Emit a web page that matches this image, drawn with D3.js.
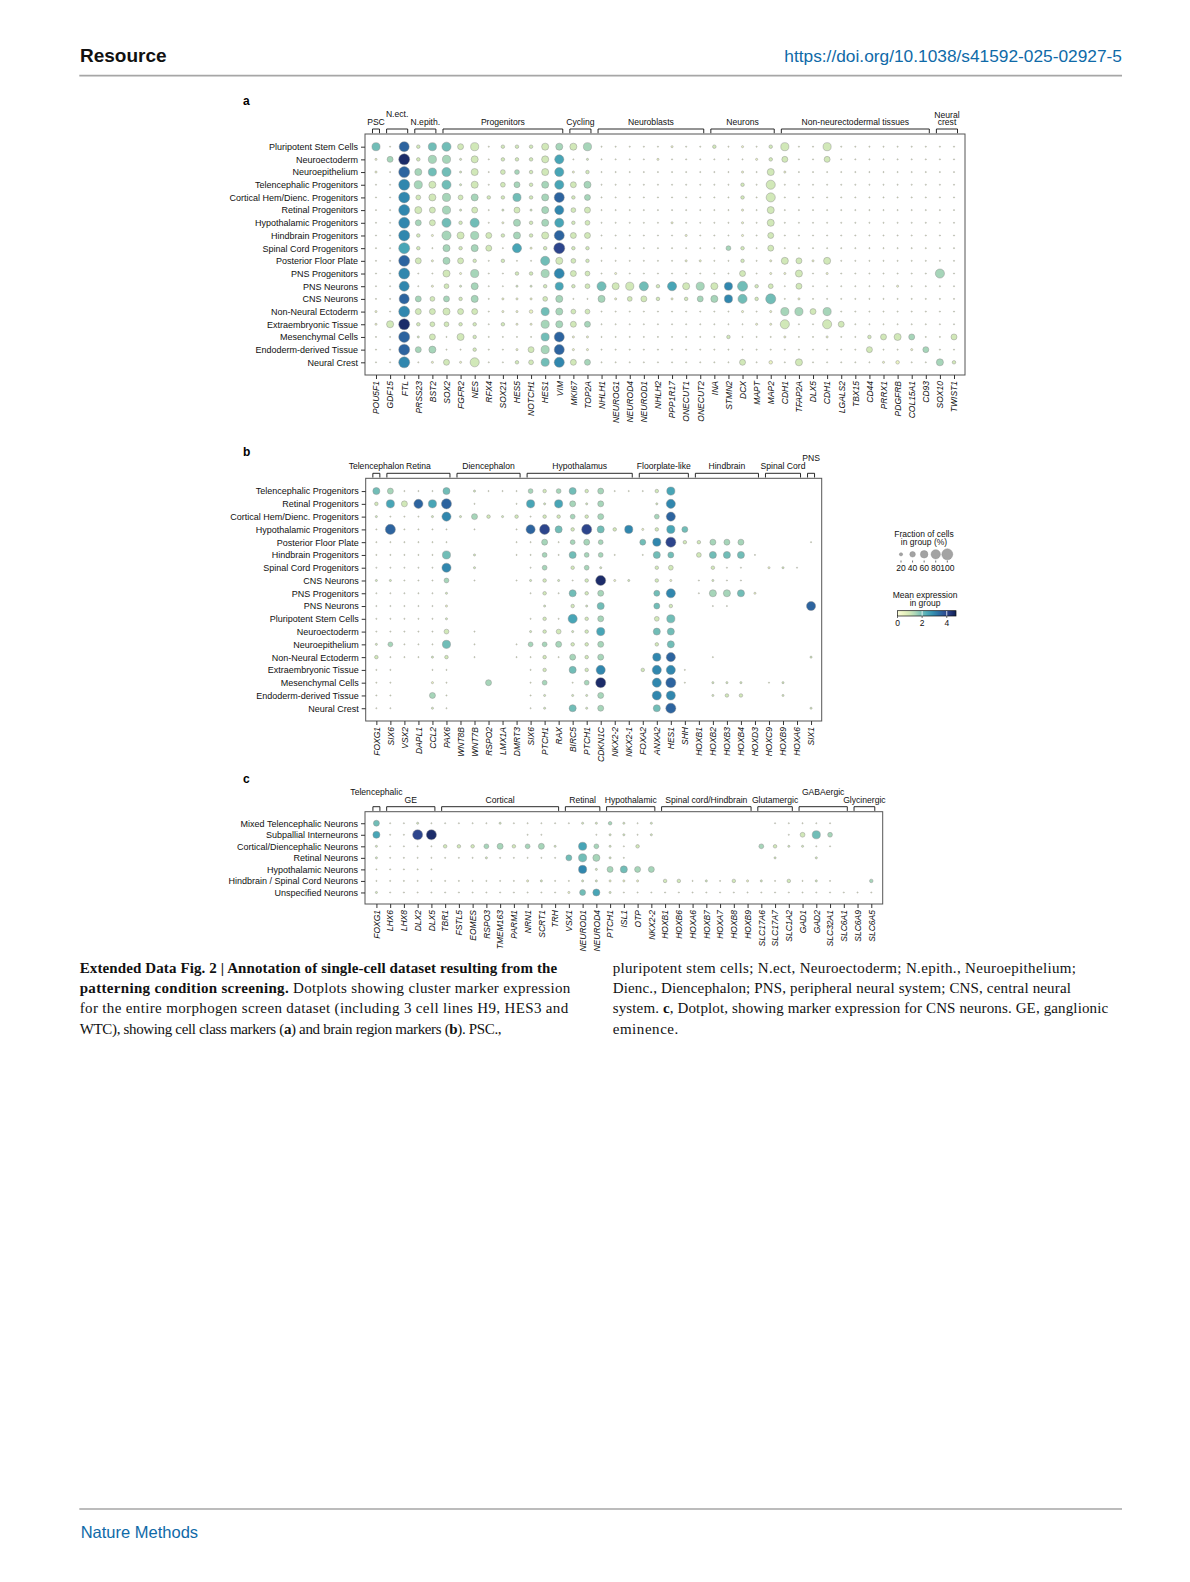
<!DOCTYPE html>
<html>
<head>
<meta charset="utf-8">
<script src="https://cdn.jsdelivr.net/npm/d3@7"></script>
<style>
  body { margin: 0; background: #fff; }
  svg { display: block; font-family: "Liberation Sans", Arial, sans-serif; }
</style>
</head>
<body>
<svg id="fig" width="1190" height="1582"></svg>
<script>
// Cell codes used in the frac/expr strings below (one char per gene, spaces only group the brackets):
//   frac: "." = no dot, "0" = ~5 % of cells, "1".."9" = n/9 of cells (9 = 100 %)
//   expr: mean expression in group = n * 0.5

// ---- panel a : cell class markers
var rowsA = ["Pluripotent Stem Cells", "Neuroectoderm", "Neuroepithelium", "Telencephalic Progenitors",
  "Cortical Hem/Dienc. Progenitors", "Retinal Progenitors", "Hypothalamic Progenitors", "Hindbrain Progenitors",
  "Spinal Cord Progenitors", "Posterior Floor Plate", "PNS Progenitors", "PNS Neurons", "CNS Neurons",
  "Non-Neural Ectoderm", "Extraembryonic Tissue", "Mesenchymal Cells", "Endoderm-derived Tissue", "Neural Crest"];
var genesA = ["POU5F1", "GDF15", "FTL", "PRSS23", "BST2", "SOX2", "FGFR2", "NES", "RFX4", "SOX21", "HES5",
  "NOTCH1", "HES1", "VIM", "MKI67", "TOP2A", "NHLH1", "NEUROG1", "NEUROD4", "NEUROD1", "NHLH2", "PPP1R17",
  "ONECUT1", "ONECUT2", "INA", "STMN2", "DCX", "MAPT", "MAP2", "CDH1", "TFAP2A", "DLX5", "CDH1", "LGALS2",
  "TBX15", "CD44", "PRRX1", "PDGFRB", "COL15A1", "CD93", "SOX10", "TWIST1"];
var groupsA = [["PSC", 1], ["N.ect.", 2], ["N.epith.", 2], ["Progenitors", 9], ["Cycling", 2],
  ["Neuroblasts", 8], ["Neurons", 5], ["Non-neurectodermal tissues", 11], ["Neural\ncrest", 2]];
var fracA = [
  "6 08 26 746022255 56 00000100 20102 60060000000 00",
  "1 49 26 615022257 01 00001000 00012 40040000000 00",
  "1 09 56 715033257 12 00000000 00105 10000000000 00",
  "0 09 65 715034257 45 00000000 00207 00000000000 00",
  "0 09 35 635226258 24 00000000 00207 00000000000 00",
  "0 09 54 614014157 34 00000000 00105 00000000000 00",
  "0 09 44 727015257 23 00000100 00105 00000000000 00",
  "0 09 21 756425258 44 00000010 00104 00000000000 00",
  "0 09 20 525407129 22 00000000 03204 00000000000 00",
  "0 09 41 542020075 32 00000011 00201 54150000000 00",
  "0 09 00 516002268 43 01000000 00401 15010000000 70",
  "0 08 01 315001126 23 75672756 56823 04000000100 00",
  "0 08 43 425011135 00 51342124 56728 01000000000 00",
  "1 09 44 544011265 33 00000000 00101 66460000000 00",
  "1 59 23 322021165 44 00000000 00011 70074000000 00",
  "0 09 14 052000068 11 00000000 02000 10010024540 04",
  "0 09 45 002001468 11 00000000 00000 00000040014 00",
  "0 09 01 417002368 44 00000000 00402 05000001200 52"];
var exprA = [
  "4 17 24 422122223 23 11111111 21112 21121111111 11",
  "1 39 23 322122225 12 11111111 11112 21121111111 11",
  "1 17 34 422123225 12 11111111 11112 11111111111 11",
  "1 16 32 422123235 23 11111111 11212 11111111111 11",
  "1 16 22 323224237 23 11111111 11212 11111111111 11",
  "1 16 22 322122236 22 11111111 11112 11111111111 11",
  "1 16 32 424113235 22 11111111 11112 11111111111 11",
  "1 16 21 323223227 22 11111111 11112 11111111111 11",
  "1 15 21 323215128 22 11111111 13212 11111111111 11",
  "1 17 21 322121142 22 11111111 11211 22121111111 11",
  "1 16 11 213112236 22 11111111 11211 12111111111 31",
  "1 16 11 223112225 22 42242523 26422 12111111111 11",
  "1 17 32 323111123 11 31222123 36424 11111111111 11",
  "1 16 22 222111143 22 11111111 11111 33231111111 11",
  "1 29 22 222121133 23 11111111 11111 21122111111 11",
  "1 17 22 122111147 11 11111111 12111 11111122231 12",
  "1 17 33 112111237 11 11111111 11111 11111121113 11",
  "1 16 11 212112246 23 11111111 11211 12111111111 32"];

// ---- panel b : brain region markers
var rowsB = ["Telencephalic Progenitors", "Retinal Progenitors", "Cortical Hem/Dienc. Progenitors",
  "Hypothalamic Progenitors", "Posterior Floor Plate", "Hindbrain Progenitors", "Spinal Cord Progenitors",
  "CNS Neurons", "PNS Progenitors", "PNS Neurons", "Pluripotent Stem Cells", "Neuroectoderm", "Neuroepithelium",
  "Non-Neural Ectoderm", "Extraembryonic Tissue", "Mesenchymal Cells", "Endoderm-derived Tissue", "Neural Crest"];
var genesB = ["FOXG1", "SIX6", "VSX2", "DAPL1", "CCL2", "PAX6", "WNT8B", "WNT7B", "RSPO2", "LMX1A", "DMRT3",
  "SIX6", "PTCH1", "RAX", "BIRC5", "PTCH1", "CDKN1C", "NKX2-2", "NKX2-1", "FOXA2", "ANXA2", "HES1", "SHH",
  "HOXB1", "HOXB2", "HOXB3", "HOXB4", "HOXD3", "HOXC9", "HOXB9", "HOXA6", "SIX1"];
var groupsB = [["Telencephalon", 1], ["Retina", 5], ["Diencephalon", 5], ["Hypothalamus", 8],
  ["Floorplate-like", 4], ["Hindbrain", 5], ["Spinal Cord", 3], ["PNS", 1]];
var fracB = [
  "5 40005 .1000 32352400 026. ..... ... .",
  "2 64768 .0..0 616414.. .17. ..... ... .",
  "1 00017 14212 022324.. .37. ..... ... .",
  "0 80000 .0..0 78528526 1264 ..... ... .",
  "0 00000 ....0 040343.. 4682 2444. ... 0",
  "0 00006 .1..0 0305330. 054. 35550 ... .",
  "0 00007 .1... 03.231.. .23. .200. 110 .",
  "1 10003 .0..0 12102811 .21. 0100. ... .",
  "0 00001 ..... 020524.. .47. 05551 ... .",
  "0 00001 ..... .1.215.. .42. .00.. ... 7",
  "0 00001 ..... 020724.. .36. ..... ... .",
  "0 00003 .0... 123126.. .55. ..... ... .",
  "1 30006 .0..0 334224.. .25. ..... ... .",
  "2 00012 .0..0 020424.. .67. .0... ... 1",
  "0 0..00 ..... 02.527.. 2770 ..... ... .",
  "0 0..10 ..4.. 03.038.. .780 .111. 01. .",
  "0 0..40 ..... 01.114.. .77. .122. .1. .",
  "0 0..10 ..... 01.514.. .58. ..... ... 1"];
var exprB = [
  "4 31114 12111 32342311 1251 11111 111 1",
  "2 52757 11111 52532311 1261 11111 111 1",
  "2 11126 23222 12232311 1371 11111 111 1",
  "1 71111 11111 78428426 1254 11111 111 1",
  "1 11111 11111 13133311 4682 23331 111 1",
  "1 11114 12111 13143311 1441 24441 111 1",
  "1 11116 12111 13123211 1221 12111 121 1",
  "2 21113 11111 22212912 1211 12111 111 1",
  "1 11112 11111 12142311 1461 13341 111 1",
  "1 11111 11111 12122411 1421 11111 111 7",
  "1 11112 11111 12152311 1241 11111 111 1",
  "1 11112 11111 22222511 1441 11111 111 1",
  "2 31114 11111 33322311 1241 11111 111 1",
  "2 11122 11111 12132311 1671 11111 111 2",
  "1 11111 11111 12142611 2661 11111 111 1",
  "1 11111 11311 13113911 1671 12221 121 1",
  "1 11131 11111 12122311 1661 12221 121 1",
  "1 11121 11111 12142311 1471 11111 111 2"];

// ---- panel c : CNS neuron markers
var rowsC = ["Mixed Telencephalic Neurons", "Subpallial Interneurons", "Cortical/Diencephalic Neurons",
  "Retinal Neurons", "Hypothalamic Neurons", "Hindbrain / Spinal Cord Neurons", "Unspecified Neurons"];
var genesC = ["FOXG1", "LHX6", "LHX8", "DLX2", "DLX5", "TBR1", "FSTL5", "EOMES", "RSPO3", "TMEM163", "PARM1",
  "NRN1", "SCRT1", "TRH", "VSX1", "NEUROD1", "NEUROD4", "PTCH1", "ISL1", "OTP", "NKX2-2", "HOXB1", "HOXB6",
  "HOXA6", "HOXB7", "HOXA7", "HOXB8", "HOXB9", "SLC17A6", "SLC17A7", "SLC1A2", "GAD1", "GAD2", "SLC32A1",
  "SLC6A1", "SLC6A9", "SLC6A5"];
var groupsC = [["Telencephalic", 1], ["GE", 4], ["Cortical", 9], ["Retinal", 3], ["Hypothalamic", 4],
  ["Spinal cord/Hindbrain", 7], ["Glutamergic", 3], ["GABAergic", 4], ["Glycinergic", 2]];
var fracC = [
  "4 0010 000010000 011 2101 ....... .00 000. ..",
  "5 0088 ......00. ..0 1101 ....... ..0 363. ..",
  "1 0000 222342341 .63 102. ....... 321 100. ..",
  "1 0000 000100000 465 10.. ....... .1. .1.. ..",
  "0 0000 ......... .61 4544 ....... ... .... ..",
  "0 0000 000000110 011 111. 2201021 102 010. .2",
  "1 0000 000000000 145 1000 0000000 000 0000 00"];
var exprC = [
  "4 1121 111121111 122 3212 1111111 111 1111 11",
  "5 1189 111111111 111 2212 1111111 111 2431 11",
  "2 1111 222332332 153 2121 1111111 322 2111 11",
  "2 1111 111211111 443 2111 1111111 121 1211 11",
  "1 1111 111111111 162 3433 1111111 111 1111 11",
  "1 1111 111111121 122 1111 2212121 212 1211 13",
  "2 1111 111111111 145 2111 1111111 111 1111 11"];

// ---- legend values
var fracTicks = [20, 40, 60, 80, 100];
var exprTicks = [0, 2, 4];
var exprMax = 4.75;

// ---- caption
var captionLeft = [
  [["Extended Data Fig. 2 | Annotation of single-cell dataset resulting from the", true]],
  [["patterning condition screening.", true], [" Dotplots showing cluster marker expression", false]],
  [["for the entire morphogen screen dataset (including 3 cell lines H9, HES3 and", false]],
  [["WTC), showing cell class markers (", false], ["a", true], [") and brain region markers (", false], ["b", true], ["). PSC.,", false]]];
var captionRight = [
  [["pluripotent stem cells; N.ect, Neuroectoderm; N.epith., Neuroepithelium;", false]],
  [["Dienc., Diencephalon; PNS, peripheral neural system; CNS, central neural", false]],
  [["system. ", false], ["c", true], [", Dotplot, showing marker expression for CNS neurons. GE, ganglionic", false]],
  [["eminence.", false]]];

var svg = d3.select("#fig");
var blue = "#0f6aa8";
svg.append("rect").attr("width", 1190).attr("height", 1582).attr("fill", "#fff");

var sizeScale = d3.scalePow().exponent(0.75).domain([0, 100]).range([0, 5.5]);
// YlGnBu, a little muted like the printed figure
var colorScale = d3.scaleSequential(function(t) {
  var c = d3.hsl(d3.interpolateYlGnBu(t));
  c.s *= 0.82;
  return c.formatHex();
}).domain([0, exprMax]);

function cells(s) { return s.replace(/ /g, "").split(""); }
function fracOf(c) { return c === "." ? 0 : (c === "0" ? 5 : (+c) / 9 * 100); }
function exprOf(c) { return (+c) * 0.5; }

// labels that sit one step higher so they do not run into a neighbour
var lifted = new Set(["N.ect.", "PNS", "Telencephalic", "GABAergic"]);

function dotplot(p) {
  var g = svg.append("g");
  var x = d3.scalePoint().domain(d3.range(p.genes.length)).range([p.box.l, p.box.r]).padding(p.pad);
  var y = d3.scalePoint().domain(p.rows).range([p.box.t, p.box.b]).padding(1);

  var data = [];
  p.rows.forEach(function(r, i) {
    var fr = cells(p.frac[i]), ex = cells(p.expr[i]);
    if (fr.length !== p.genes.length || ex.length !== p.genes.length) {
      throw new Error(p.name + " row " + i + ": " + fr.length + "/" + ex.length);
    }
    fr.forEach(function(c, j) {
      var f = fracOf(c);
      if (f > 0) data.push({ row: r, col: j, frac: f, expr: exprOf(ex[j]) });
    });
  });

  g.append("rect")
    .attr("x", p.box.l).attr("y", p.box.t)
    .attr("width", p.box.r - p.box.l).attr("height", p.box.b - p.box.t)
    .attr("fill", "#fff").attr("stroke", "#555").attr("stroke-width", 1);

  g.selectAll("circle.dot").data(data).enter().append("circle")
    .attr("class", "dot")
    .attr("cx", function(d) { return x(d.col); })
    .attr("cy", function(d) { return y(d.row); })
    .attr("r", function(d) { return sizeScale(d.frac); })
    .attr("fill", function(d) { return colorScale(d.expr); })
    .attr("stroke", "#8c8c8c")
    .attr("stroke-width", 0.45);

  var ya = g.append("g")
    .attr("transform", "translate(" + p.box.l + ",0)")
    .call(d3.axisLeft(y).tickSize(4).tickPadding(3));
  ya.select(".domain").remove();
  ya.attr("font-size", 9).attr("font-family", null).attr("color", "#333");
  ya.selectAll("text").attr("fill", "#111");

  var xa = g.append("g")
    .attr("transform", "translate(0," + p.box.b + ")")
    .call(d3.axisBottom(x).tickSize(4).tickFormat(function(i) { return p.genes[i]; }));
  xa.select(".domain").remove();
  xa.attr("font-size", 8.5).attr("font-family", null).attr("color", "#333");
  xa.selectAll("text")
    .attr("fill", "#111")
    .attr("font-style", "italic")
    .attr("text-anchor", "end")
    .attr("transform", "rotate(-90)")
    .attr("x", -6).attr("y", 0).attr("dy", "0.33em");

  var start = 0;
  p.groups.forEach(function(gr) {
    var i0 = start, i1 = start + gr[1] - 1;
    start += gr[1];
    var x0 = x(i0) - 3.5, x1 = x(i1) + 3.5;
    var top = p.box.t - 5, bot = p.box.t - 0.8;
    g.append("path")
      .attr("d", "M" + x0 + "," + bot + "V" + top + "H" + x1 + "V" + bot)
      .attr("fill", "none").attr("stroke", "#111").attr("stroke-width", 0.9);
    var lines = gr[0].split("\n");
    var base = p.box.t - (lifted.has(gr[0]) ? 17 : 9);
    lines.forEach(function(ln, k) {
      g.append("text")
        .attr("x", (x0 + x1) / 2)
        .attr("y", base - (lines.length - 1 - k) * 7.5)
        .attr("text-anchor", "middle")
        .attr("font-size", 8.6)
        .attr("fill", "#111")
        .text(ln);
    });
  });

  svg.append("text")
    .attr("x", 243).attr("y", p.letterY)
    .attr("font-size", 12).attr("font-weight", "bold")
    .text(p.name);
}

dotplot({ name: "a", rows: rowsA, genes: genesA, groups: groupsA, frac: fracA, expr: exprA,
  box: { l: 365, r: 965, t: 134, b: 375 }, pad: 0.78, letterY: 105 });
dotplot({ name: "b", rows: rowsB, genes: genesB, groups: groupsB, frac: fracB, expr: exprB,
  box: { l: 365.7, r: 821.7, t: 478.3, b: 721 }, pad: 0.76, letterY: 456 });
dotplot({ name: "c", rows: rowsC, genes: genesC, groups: groupsC, frac: fracC, expr: exprC,
  box: { l: 365, r: 882.7, t: 811.7, b: 904 }, pad: 0.83, letterY: 783 });

// ---- legends next to panel b
var leg = svg.append("g").attr("font-size", 8.5).attr("fill", "#111");
leg.append("text").attr("x", 924).attr("y", 537).attr("text-anchor", "middle").text("Fraction of cells");
leg.append("text").attr("x", 924).attr("y", 544.5).attr("text-anchor", "middle").text("in group (%)");
var lx = d3.scalePoint().domain(fracTicks).range([901, 947.3]);
leg.selectAll("circle").data(fracTicks).enter().append("circle")
  .attr("cx", function(d) { return lx(d); }).attr("cy", 554.3)
  .attr("r", function(d) { return sizeScale(d); })
  .attr("fill", "#a3a3a3").attr("stroke", "#8c8c8c").attr("stroke-width", 0.45);
leg.selectAll("line").data(fracTicks).enter().append("line")
  .attr("x1", function(d) { return lx(d); }).attr("x2", function(d) { return lx(d); })
  .attr("y1", 560.5).attr("y2", 562.5).attr("stroke", "#333").attr("stroke-width", 0.7);
leg.selectAll("text.ft").data(fracTicks).enter().append("text")
  .attr("class", "ft")
  .attr("x", function(d) { return lx(d); }).attr("y", 571)
  .attr("text-anchor", "middle").text(function(d) { return d; });

leg.append("text").attr("x", 925).attr("y", 598).attr("text-anchor", "middle").text("Mean expression");
leg.append("text").attr("x", 925).attr("y", 605.5).attr("text-anchor", "middle").text("in group");
var grad = svg.append("defs").append("linearGradient").attr("id", "cbar");
d3.range(0, 1.0001, 0.1).forEach(function(t) {
  grad.append("stop").attr("offset", t).attr("stop-color", colorScale(t * exprMax));
});
var cx = d3.scaleLinear().domain([0, exprMax]).range([897.5, 956]);
leg.append("rect").attr("x", 897.5).attr("y", 610.7).attr("width", 58.5).attr("height", 5.3)
  .attr("fill", "url(#cbar)").attr("stroke", "#111").attr("stroke-width", 0.7);
leg.selectAll("line.ct").data(exprTicks.slice(1)).enter().append("line")
  .attr("x1", function(d) { return cx(d); }).attr("x2", function(d) { return cx(d); })
  .attr("y1", 611).attr("y2", 615.7).attr("stroke", "#fff").attr("stroke-width", 0.8);
leg.selectAll("line.ck").data(exprTicks).enter().append("line")
  .attr("x1", function(d) { return cx(d); }).attr("x2", function(d) { return cx(d); })
  .attr("y1", 616).attr("y2", 618).attr("stroke", "#333").attr("stroke-width", 0.7);
leg.selectAll("text.ct").data(exprTicks).enter().append("text")
  .attr("class", "ct")
  .attr("x", function(d) { return cx(d); }).attr("y", 625.5)
  .attr("text-anchor", "middle").text(function(d) { return d; });

// ---- page header and footer
svg.append("text").attr("x", 80).attr("y", 61.7).attr("font-size", 19).attr("font-weight", "bold")
  .attr("fill", "#111").text("Resource");
svg.append("text").attr("x", 1122).attr("y", 62.3).attr("text-anchor", "end").attr("font-size", 16.5)
  .attr("fill", blue).attr("textLength", 337.7).attr("lengthAdjust", "spacingAndGlyphs")
  .text("https://doi.org/10.1038/s41592-025-02927-5");
svg.append("line").attr("x1", 79.3).attr("x2", 1122).attr("y1", 75.7).attr("y2", 75.7)
  .attr("stroke", "#a6a6a6").attr("stroke-width", 1.7);
svg.append("line").attr("x1", 79.3).attr("x2", 1122).attr("y1", 1509).attr("y2", 1509)
  .attr("stroke", "#a6a6a6").attr("stroke-width", 1.7);
svg.append("text").attr("x", 80.7).attr("y", 1537.7).attr("font-size", 16.5)
  .attr("fill", blue).text("Nature Methods");

// ---- caption (two columns)
function caption(lines, x0, widths) {
  lines.forEach(function(segs, i) {
    var t = svg.append("text")
      .attr("x", x0).attr("y", 973 + i * 20.2)
      .style("font-family", "'Liberation Serif', 'Times New Roman', serif")
      .attr("font-size", 15).attr("fill", "#111")
      .attr("textLength", widths[i]).attr("lengthAdjust", "spacing");
    segs.forEach(function(s) {
      t.append("tspan").attr("font-weight", s[1] ? "bold" : "normal").text(s[0]);
    });
  });
}
caption(captionLeft, 79.7, [477.4, 490.6, 488.5, 421.9]);
caption(captionRight, 612.7, [463.2, 458.2, 495.5, 65.6]);
</script>
</body>
</html>
